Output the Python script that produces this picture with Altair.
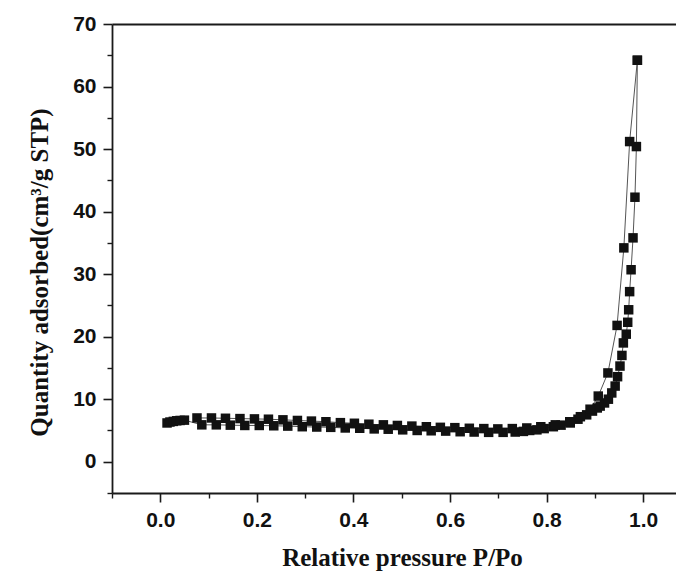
import altair as alt
import pandas as pd

# Adsorption branch (relative pressure, quantity adsorbed)
ads_p = [0.014, 0.020, 0.027, 0.034, 0.041, 0.050,
         0.086, 0.116, 0.145, 0.175, 0.205, 0.235, 0.264, 0.294, 0.324, 0.353,
         0.383, 0.413, 0.443, 0.472, 0.502, 0.532, 0.561, 0.591, 0.621, 0.650,
         0.680, 0.710, 0.735,
         0.752, 0.765, 0.780, 0.795, 0.814, 0.830, 0.849, 0.865, 0.883, 0.895,
         0.905, 0.911, 0.920, 0.928, 0.935, 0.942, 0.947, 0.952, 0.956, 0.959,
         0.965, 0.968, 0.970, 0.972, 0.975, 0.979, 0.983, 0.986, 0.988]
ads_q = [6.2, 6.35, 6.45, 6.55, 6.6, 6.65,
         5.9, 5.9, 5.85, 5.8, 5.8, 5.75, 5.7, 5.6, 5.55, 5.5,
         5.4, 5.35, 5.25, 5.2, 5.1, 5.0, 4.95, 4.9, 4.8, 4.75,
         4.7, 4.7, 4.75,
         4.85, 5.0, 5.1, 5.3, 5.6, 5.85, 6.2, 6.8, 7.5, 8.1,
         8.6, 8.9, 9.4, 10.0, 11.0, 12.1, 13.6, 15.3, 17.0, 19.0,
         20.4, 22.3, 24.3, 27.2, 30.7, 35.8, 42.3, 50.4, 64.2]

# Desorption branch
des_p = [0.076, 0.106, 0.135, 0.165, 0.195, 0.224, 0.254, 0.284, 0.313, 0.343,
         0.373, 0.402, 0.432, 0.462, 0.491, 0.521, 0.551, 0.580, 0.610, 0.640,
         0.670, 0.699, 0.729, 0.759, 0.788, 0.818, 0.848, 0.870, 0.890, 0.907,
         0.927, 0.946, 0.960, 0.972, 0.988]
des_q = [7.0, 7.0, 6.95, 6.9, 6.85, 6.8, 6.7, 6.6, 6.5, 6.4,
         6.25, 6.15, 6.0, 5.9, 5.8, 5.7, 5.6, 5.5, 5.45, 5.35,
         5.3, 5.25, 5.3, 5.4, 5.6, 5.9, 6.4, 7.2, 8.4, 10.5,
         14.2, 21.8, 34.2, 51.2, 64.2]

x_major = [0.0, 0.2, 0.4, 0.6, 0.8, 1.0]
x_minor = [-0.1, 0.1, 0.3, 0.5, 0.7, 0.9]
y_major = [0, 10, 20, 30, 40, 50, 60, 70]
y_minor = [-5, 5, 15, 25, 35, 45, 55, 65]

x_title = "Relative pressure P/Po"
y_title = "Quantity adsorbed(cm³/g STP)"

df = pd.DataFrame({
    "P": ads_p + des_p,
    "Q": ads_q + des_q,
    "branch": ["adsorption"] * len(ads_p) + ["desorption"] * len(des_p),
})

AX = "#1a1a1a"
xs = alt.Scale(domain=[-0.1, 1.068], nice=False, zero=False)
ys = alt.Scale(domain=[-5, 70], nice=False, zero=False)

base = alt.Chart(df)

lines = base.mark_line(color="#555555", strokeWidth=1).encode(
    x=alt.X("P:Q", scale=xs, axis=None),
    y=alt.Y("Q:Q", scale=ys, axis=None),
    detail="branch:N",
)

points = base.mark_point(shape="square", filled=True, color="#111111",
                         size=90, opacity=1, strokeWidth=0).encode(
    x=alt.X("P:Q", scale=xs, axis=alt.Axis(
        values=x_major, format=".1f", orient="bottom", grid=False,
        tickSize=9, tickWidth=1.6, tickColor=AX,
        domainColor=AX, domainWidth=1.8,
        labelFont="Liberation Sans", labelFontSize=21, labelFontWeight="bold",
        labelColor="#111111", labelBaseline="alphabetic", labelPadding=24,
        labelFlush=False, labelOverlap=False,
        title=x_title, titleFont="Liberation Serif", titleFontSize=25,
        titleFontWeight="bold", titleColor="#111111",
        titleX=290, titleY=72, titleBaseline="alphabetic", titleAlign="center")),
    y=alt.Y("Q:Q", scale=ys, axis=alt.Axis(
        values=y_major, format="d", orient="left", grid=False,
        tickSize=9, tickWidth=1.6, tickColor=AX,
        domainColor=AX, domainWidth=1.8,
        labelFont="Liberation Sans", labelFontSize=21, labelFontWeight="bold",
        labelColor="#111111", labelPadding=7,
        labelFlush=False, labelOverlap=False,
        title=y_title, titleFont="Liberation Serif", titleFontSize=25,
        titleFontWeight="bold", titleColor="#111111",
        titleAngle=270, titleX=-65, titleY=248,
        titleBaseline="alphabetic", titleAlign="center")),
)

minor = base.mark_point(opacity=0).encode(
    x=alt.X("P:Q", scale=xs, axis=alt.Axis(
        values=x_minor, orient="bottom", grid=False, labels=False, domain=False,
        tickSize=5, tickWidth=1.4, tickColor=AX, title=None)),
    y=alt.Y("Q:Q", scale=ys, axis=alt.Axis(
        values=y_minor, orient="left", grid=False, labels=False, domain=False,
        tickSize=5, tickWidth=1.4, tickColor=AX, title=None)),
)

top = base.mark_point(opacity=0).encode(
    x=alt.X("P:Q", scale=xs, axis=alt.Axis(
        orient="top", grid=False, labels=False, ticks=False, domain=True,
        domainColor=AX, domainWidth=1.8, title=None)),
    y=alt.Y("Q:Q", scale=ys, axis=None),
)

chart = alt.layer(lines, points, minor, top).resolve_axis(
    x="independent", y="independent"
).properties(
    width=564, height=469,
    autosize=alt.AutoSizeParams(type="none"),
    padding={"left": 104, "top": 16, "right": 0, "bottom": 78},
    background="white",
).configure_view(stroke=None)

chart.save("out.html", embed_options={"renderer": "svg", "actions": False})
